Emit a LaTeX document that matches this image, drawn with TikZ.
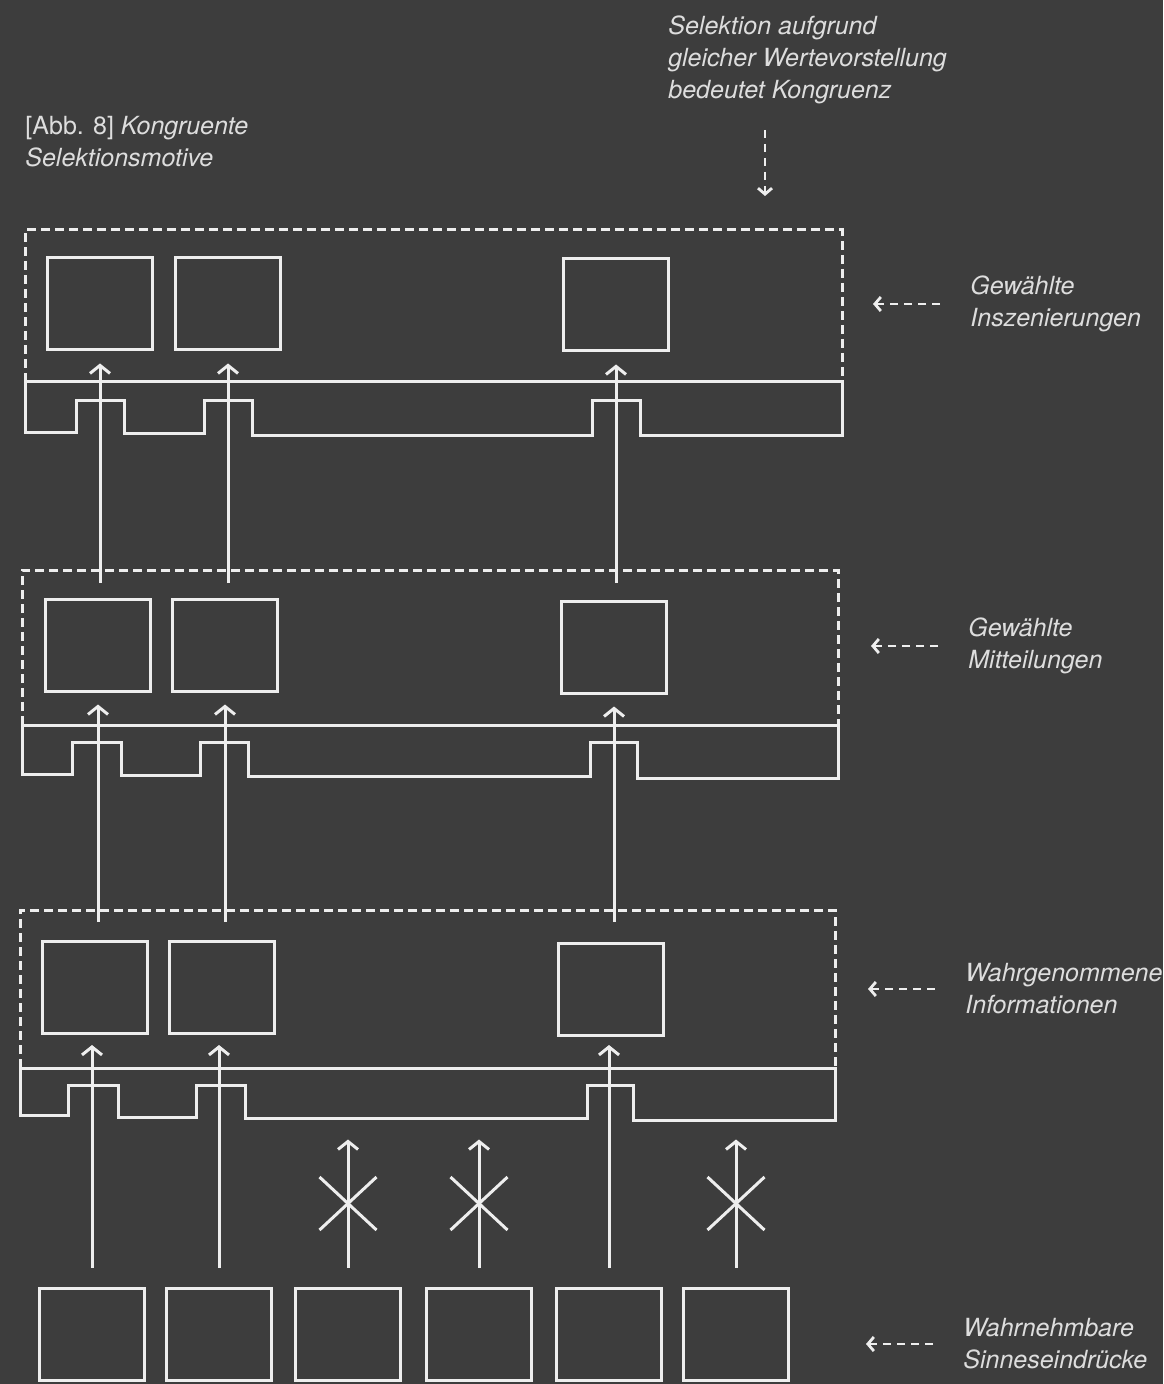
\documentclass[tikz,border=0pt]{standalone}
\usepackage{fontspec}
\setmainfont{TeX Gyre Heros}
\usetikzlibrary{arrows.meta,shapes.misc}

\definecolor{tafel}{HTML}{3D3D3D}
\definecolor{kreide}{HTML}{EEEEEE}
\definecolor{schrift}{HTML}{DDDDDD}

\tikzset{
  linie/.style={draw=kreide, line width=1.5pt},
  kasten/.style={linie, minimum width=52.5pt, minimum height=46pt, inner sep=0pt},
  rahmen/.style={draw=kreide, line width=1.5pt, dash pattern=on 4.5pt off 2.5pt},
  pfeil/.style={linie, -{Straight Barb[length=4pt,width=10pt]}},
  sperre/.style={linie, cross out, arrows=-, minimum width=27pt, minimum height=25pt, inner sep=0pt},
  hinweis/.style={draw=kreide, line width=1.4pt, dash pattern=on 4pt off 3pt, -{Straight Barb[length=3pt,width=7pt]}},
  notiz/.style={text=schrift, font=\fontsize{12.5}{16}\selectfont\itshape, align=left, anchor=west, inner sep=0pt}
}

\begin{document}
\begin{tikzpicture}[x=0.5pt, y=-0.5pt]
  \fill[tafel] (0,0) rectangle (1163,1384);
  \useasboundingbox (0,0) rectangle (1163,1384);

  % Titel und Hinweis oben
  \node[notiz] (titel) at (25,142) {{\upshape [Abb. 8]} Kongruente\\Selektionsmotive};
  \node[notiz] (kongruenz) at (668,60) {Selektion aufgrund\\gleicher Wertevorstellung\\bedeutet Kongruenz};
  \coordinate (k-pfeil) at (765,130);
  \draw[hinweis] (k-pfeil) -- ++(0,66);

  % oberste Ebene: Inszenierungen
  \draw[rahmen] (25,382) -- (25,230) -- (842,230) -- (842,382);
  \draw[linie] (25,382) -- (842,382) -- (842,436) -- (640,436) -- (640,401) -- (592,401) -- (592,436)
    -- (252,436) -- (252,401) -- (204,401) -- (204,434) -- (124,434) -- (124,401) -- (76,401) -- (76,433)
    -- (25,433) -- cycle;
  \node[kasten] (i1) at (100,304) {};
  \node[kasten] (i2) at (228,304) {};
  \node[kasten] (i3) at (616,305) {};

  % mittlere Ebene: Mitteilungen
  \draw[rahmen] (22,725) -- (22,570) -- (838,570) -- (838,725);
  \draw[linie] (22,725) -- (838,725) -- (838,778) -- (637,778) -- (637,742) -- (590,742) -- (590,776)
    -- (248,776) -- (248,742) -- (200,742) -- (200,775) -- (121,775) -- (121,742) -- (72,742) -- (72,774)
    -- (22,774) -- cycle;
  \node[kasten] (m1) at (98,645) {};
  \node[kasten] (m2) at (225,645) {};
  \node[kasten] (m3) at (614,647) {};
  \coordinate (m-start) at (0,583);

  % untere Ebene: Informationen
  \draw[rahmen] (20,1068) -- (20,910) -- (835,910) -- (835,1068);
  \draw[linie] (20,1068) -- (835,1068) -- (835,1120) -- (633,1120) -- (633,1085) -- (587,1085) -- (587,1118)
    -- (245,1118) -- (245,1085) -- (196,1085) -- (196,1117) -- (118,1117) -- (118,1085) -- (68,1085) -- (68,1115)
    -- (20,1115) -- cycle;
  \node[kasten] (w1) at (95,987) {};
  \node[kasten] (w2) at (222,987) {};
  \node[kasten] (w3) at (611,989) {};
  \coordinate (w-start) at (0,922);
  \coordinate (w-ende) at (0,1045);

  % Sinneseindruecke
  \node[kasten] (s1) at (92,1334) {};
  \node[kasten] (s2) at (219,1334) {};
  \node[kasten] (s3) at (348,1334) {};
  \node[kasten] (s4) at (479,1334) {};
  \node[kasten] (s5) at (609,1334) {};
  \node[kasten] (s6) at (736,1334) {};

  % Pfeile nach oben
  \draw[pfeil] (i1 |- m-start) -- ([yshift=-6pt]i1.south);
  \draw[pfeil] (i2 |- m-start) -- ([yshift=-6pt]i2.south);
  \draw[pfeil] (i3 |- m-start) -- ([yshift=-6pt]i3.south);
  \draw[pfeil] (m1 |- w-start) -- ([yshift=-6pt]m1.south);
  \draw[pfeil] (m2 |- w-start) -- ([yshift=-6pt]m2.south);
  \draw[pfeil] (m3 |- w-start) -- ([yshift=-6pt]m3.south);
  \draw[pfeil] ([yshift=9.5pt]s1.north) -- (s1 |- w-ende);
  \draw[pfeil] ([yshift=9.5pt]s2.north) -- (s2 |- w-ende);
  \draw[pfeil] ([yshift=9.5pt]s5.north) -- (s5 |- w-ende);
  % gesperrte Pfeile
  \draw[pfeil] ([yshift=9.5pt]s3.north) -- node[sperre] (x3) {} ++(0,-128);
  \draw[pfeil] ([yshift=9.5pt]s4.north) -- node[sperre] (x4) {} ++(0,-128);
  \draw[pfeil] ([yshift=9.5pt]s6.north) -- node[sperre] (x6) {} ++(0,-128);

  % Beschriftungen rechts
  \node[notiz] (l-insz) at (970,304) {Gewählte\\Inszenierungen};
  \node[notiz] (l-mitt) at (968,646) {Gewählte\\Mitteilungen};
  \node[notiz] (l-wahr) at (965,989) {Wahrgenommene\\Informationen};
  \node[notiz] (l-sinn) at (963,1344) {Wahrnehmbare\\Sinneseindrücke};
  \draw[hinweis] ([xshift=-15pt]l-insz.west) -- ++(-67,0);
  \draw[hinweis] ([xshift=-15pt]l-mitt.west) -- ++(-67,0);
  \draw[hinweis] ([xshift=-15pt]l-wahr.west) -- ++(-67,0);
  \draw[hinweis] ([xshift=-15pt]l-sinn.west) -- ++(-67,0);
\end{tikzpicture}
\end{document}
